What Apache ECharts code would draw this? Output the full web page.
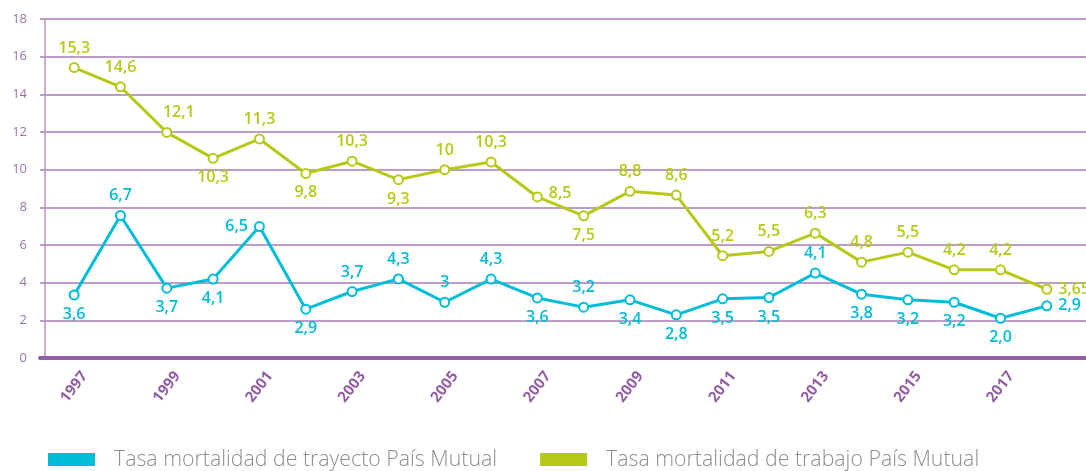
<!DOCTYPE html>
<html>
<head>
<meta charset="utf-8">
<script src="https://cdn.jsdelivr.net/npm/echarts@6/dist/echarts.min.js"></script>
<style>
  html, body { margin: 0; padding: 0; background: #fff; }
  #chart { width: 1086px; height: 471px; }
</style>
</head>
<body>
<div id="chart"></div>
<script>
// años
var years = ['1997','1998','1999','2000','2001','2002','2003','2004','2005','2006','2007',
             '2008','2009','2010','2011','2012','2013','2014','2015','2016','2017','2018'];
var yTicks = [0, 2, 4, 6, 8, 10, 12, 14, 16, 18];

// posicion de los puntos
var trayecto = [3.35, 7.57, 3.71, 4.19, 6.98, 2.59, 3.53, 4.20, 2.96, 4.19, 3.19,
                2.70, 3.09, 2.29, 3.14, 3.21, 4.51, 3.39, 3.09, 2.96, 2.11, 2.77];
var trabajo  = [15.42, 14.40, 11.98, 10.60, 11.63, 9.80, 10.45, 9.47, 10.0, 10.41, 8.55,
                7.55, 8.85, 8.65, 5.43, 5.66, 6.63, 5.09, 5.62, 4.68, 4.68, 3.65];

// etiquetas que muestra el grafico
var trayectoLabels = ['3,6','6,7','3,7','4,1','6,5','2,9','3,7','4,3','3','4,3','3,6',
                      '3,2','3,4','2,8','3,5','3,5','4,1','3,8','3,2','3,2','2,0','2,9'];
var trabajoLabels  = ['15,3','14,6','12,1','10,3','11,3','9,8','10,3','9,3','10','10,3','8,5',
                      '7,5','8,8','8,6','5,2','5,5','6,3','4,8','5,5','4,2','4,2','3,65'];

var seriesNames = ['Tasa mortalidad de trayecto País Mutual', 'Tasa mortalidad de trabajo País Mutual'];

// ubicacion de cada etiqueta
var posTrayecto = ['bottom','top','bottom','bottom','left','bottom','top','top','top','top','bottom',
                   'top','bottom','bottom','bottom','bottom','top','bottom','bottom','bottom','bottom','right'];
var posTrabajo  = ['top','top','top','bottom','top','bottom','top','bottom','top','top','right',
                   'bottom','top','top','top','top','top','top','top','top','top','right'];

var cyan = '#00bdd7';
var lime = '#b7c918';
var purple = '#935ea3';

function makeData(vals, labels, pos) {
  return vals.map(function (v, i) {
    var lab = { position: pos[i], formatter: labels[i] };
    if (i === 2 && pos === posTrabajo) lab.offset = [12, 0];
    if (i === 10 && pos === posTrabajo) lab.offset = [0, -4];
    return { value: v, label: lab };
  });
}

var chart = echarts.init(document.getElementById('chart'));
chart.setOption({
  animation: false,
  legend: {
    data: seriesNames,
    left: 43,
    top: 444,
    icon: 'rect',
    itemWidth: 47,
    itemHeight: 13,
    itemGap: 43,
    textStyle: { fontFamily: 'Open Sans', fontSize: 21.3, fontWeight: 300, color: '#8e8e8e', padding: [0, 0, 0, 14] }
  },
  grid: [
    { left: 40, right: 0, top: 19, bottom: 113 },
    { left: 51, right: 16, top: 19, bottom: 113 }
  ],
  xAxis: [
    {
      gridIndex: 0, type: 'category', data: [''],
      axisLine: { lineStyle: { color: purple, width: 4 } },
      axisTick: { show: false }, axisLabel: { show: false }
    },
    {
      gridIndex: 1, type: 'category', data: years, boundaryGap: true,
      axisLine: { show: false }, axisTick: { show: false },
      axisLabel: {
        interval: 1, rotate: 52, margin: 29, align: 'center', verticalAlign: 'middle',
        color: purple, fontFamily: 'Open Sans', fontWeight: 'bold', fontSize: 15
      }
    }
  ],
  yAxis: [
    {
      gridIndex: 0, type: 'value', min: yTicks[0], max: yTicks[yTicks.length - 1], interval: 2,
      offset: -5,
      axisLine: { show: true, onZero: false, lineStyle: { color: '#b995c4', width: 1.5 } },
      axisTick: { show: false },
      axisLabel: { margin: 18, color: '#9a72ab', fontFamily: 'Open Sans', fontSize: 13 },
      splitLine: { lineStyle: { color: '#a57cb5', width: 1.5 } }
    },
    {
      gridIndex: 1, type: 'value', min: yTicks[0], max: yTicks[yTicks.length - 1], interval: 2,
      show: false, splitLine: { show: false }
    }
  ],
  series: [
    {
      name: seriesNames[0], type: 'line', xAxisIndex: 1, yAxisIndex: 1,
      data: makeData(trayecto, trayectoLabels, posTrayecto),
      color: cyan,
      symbol: 'emptyCircle', symbolSize: 9,
      lineStyle: { width: 3, color: cyan },
      itemStyle: { color: cyan, borderWidth: 5 },
      label: { show: true, color: cyan, fontFamily: 'Open Sans', fontWeight: 600, fontSize: 16, distance: 6 }
    },
    {
      name: seriesNames[1], type: 'line', xAxisIndex: 1, yAxisIndex: 1,
      data: makeData(trabajo, trabajoLabels, posTrabajo),
      color: lime,
      symbol: 'emptyCircle', symbolSize: 9,
      lineStyle: { width: 3, color: lime },
      itemStyle: { color: lime, borderWidth: 5 },
      label: { show: true, color: lime, fontFamily: 'Open Sans', fontWeight: 600, fontSize: 16, distance: 6 }
    }
  ]
});
</script>
</body>
</html>
